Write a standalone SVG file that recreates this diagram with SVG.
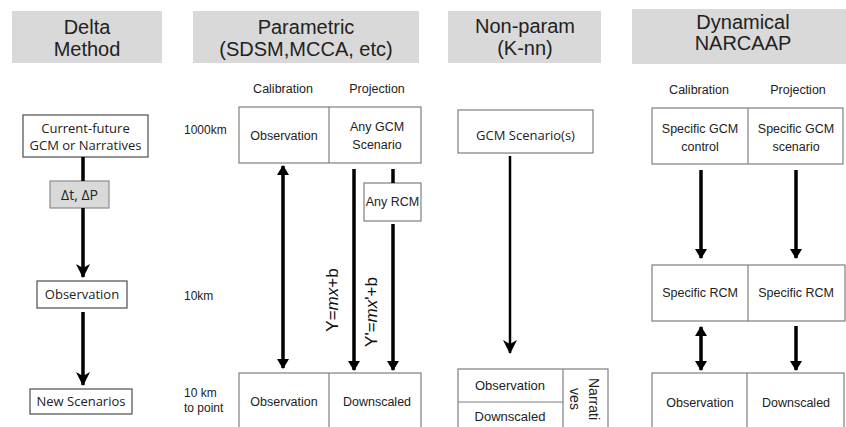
<svg xmlns="http://www.w3.org/2000/svg" width="846" height="427" viewBox="0 0 846 427">
  <defs>
    <style>
      .hdr { fill: #d9d9d9; }
      .htxt { font-family: "Liberation Sans", Arial, sans-serif; font-size: 20px; fill: #222; text-anchor: middle; }
      .box { fill: #fff; stroke: #7f7f7f; stroke-width: 1.2; }
      .dbox { fill: #fff; stroke: #595959; stroke-width: 1.3; }
      .gbox { fill: #d9d9d9; stroke: #8c8c8c; stroke-width: 1.2; }
      .div { stroke: #7f7f7f; stroke-width: 1.2; }
      .t { font-family: "Liberation Sans", Arial, sans-serif; font-size: 12.5px; fill: #222; text-anchor: middle; }
      .c { font-family: "Open Sans", "Noto Sans", sans-serif; font-size: 13px; fill: #222; text-anchor: middle; }
      .lbl { font-family: "Liberation Sans", Arial, sans-serif; font-size: 12px; fill: #222; }
      .eq { font-family: "Liberation Sans", Arial, sans-serif; font-size: 17px; fill: #111; text-anchor: middle; }
      .arr { stroke: #000; stroke-width: 3.5; fill: none; }
      .thin { stroke: #000; stroke-width: 2.5; fill: none; }
    </style>
    <marker id="tri" viewBox="0 0 10 12" refX="9" refY="6" markerWidth="10" markerHeight="12" markerUnits="userSpaceOnUse" orient="auto-start-reverse">
      <path d="M0,0 L10,6 L0,12 Z" fill="#000"/>
    </marker>
    <marker id="vee" viewBox="0 0 14 14" refX="13" refY="7" markerWidth="14" markerHeight="14" markerUnits="userSpaceOnUse" orient="auto">
      <path d="M0,0 L14,7 L0,14 L4,7 Z" fill="#000"/>
    </marker>
  </defs>

  <rect width="846" height="427" fill="#fff"/>

  <!-- column headers -->
  <g id="hdr-delta">
    <rect class="hdr" x="12" y="11" width="150" height="52"/>
    <text class="htxt" x="87" y="34">Delta</text>
    <text class="htxt" x="87" y="56">Method</text>
  </g>
  <g id="hdr-param">
    <rect class="hdr" x="193" y="11" width="226" height="52"/>
    <text class="htxt" x="306" y="34">Parametric</text>
    <text class="htxt" x="306" y="56">(SDSM,MCCA, etc)</text>
  </g>
  <g id="hdr-nonparam">
    <rect class="hdr" x="448" y="11" width="153" height="52"/>
    <text class="htxt" x="525" y="33">Non-param</text>
    <text class="htxt" x="525" y="55">(K-nn)</text>
  </g>
  <g id="hdr-dyn">
    <rect class="hdr" x="632" y="9" width="214" height="55"/>
    <text class="htxt" x="743" y="29">Dynamical</text>
    <text class="htxt" x="743" y="50">NARCAAP</text>
  </g>

  <!-- scale labels -->
  <g id="scales">
    <text class="lbl" x="184" y="134">1000km</text>
    <text class="lbl" x="184" y="300">10km</text>
    <text class="lbl" x="184" y="397">10 km</text>
    <text class="lbl" x="184" y="412">to point</text>
  </g>

  <!-- Delta method nodes -->
  <g id="delta-gcm">
    <rect class="dbox" x="23" y="115" width="125" height="42"/>
    <text class="c" x="85.5" y="133">Current-future</text>
    <text class="c" x="85.5" y="150">GCM or Narratives</text>
  </g>
  <g id="delta-change">
    <rect class="gbox" x="50" y="181" width="59" height="27"/>
    <text class="c" x="79.5" y="199.5" style="font-size:14px">Δt, ΔP</text>
  </g>
  <g id="delta-obs">
    <rect class="dbox" x="37" y="281" width="90" height="27"/>
    <text class="c" x="82" y="299">Observation</text>
  </g>
  <g id="delta-new">
    <rect class="dbox" x="30" y="389" width="102" height="25"/>
    <text class="c" x="81" y="406">New Scenarios</text>
  </g>

  <!-- Parametric nodes -->
  <g id="param-heads">
    <text class="t" x="283" y="93">Calibration</text>
    <text class="t" x="377" y="93">Projection</text>
  </g>
  <g id="param-top">
    <rect class="box" x="239" y="107" width="182" height="56"/>
    <line class="div" x1="329" y1="107" x2="329" y2="163"/>
    <text class="t" x="284" y="140">Observation</text>
    <text class="t" x="377" y="131">Any GCM</text>
    <text class="t" x="377" y="149">Scenario</text>
  </g>
  <g id="param-rcm">
    <rect class="box" x="364" y="183" width="57" height="38"/>
    <text class="t" x="392.5" y="206">Any RCM</text>
  </g>
  <g id="param-bottom">
    <rect class="box" x="239" y="373" width="182" height="60"/>
    <line class="div" x1="329" y1="373" x2="329" y2="433"/>
    <text class="t" x="284" y="406">Observation</text>
    <text class="t" x="377" y="406">Downscaled</text>
  </g>
  <g id="param-eqs">
    <text class="eq" transform="translate(338,300) rotate(-90)">Y=<tspan font-style="italic">mx</tspan>+b</text>
    <text class="eq" transform="translate(377,312) rotate(-90)">Y'=<tspan font-style="italic">mx</tspan>'+b</text>
  </g>

  <!-- Non-parametric nodes -->
  <g id="np-gcm">
    <rect class="box" x="458" y="110" width="135" height="43"/>
    <text class="c" x="525.5" y="140">GCM Scenario(s)</text>
  </g>
  <g id="np-bottom">
    <rect class="box" x="458" y="369" width="150" height="64"/>
    <line class="div" x1="563" y1="369" x2="563" y2="433"/>
    <line class="div" x1="458" y1="402" x2="563" y2="402"/>
    <text class="t" x="510" y="390" style="font-size:13px">Observation</text>
    <text class="t" x="510" y="421" style="font-size:13px">Downscaled</text>
    <text class="t" transform="translate(589,399) rotate(90)" style="font-size:14px">Narrati</text>
    <text class="t" transform="translate(570,399) rotate(90)" style="font-size:14px">ves</text>
  </g>

  <!-- Dynamical nodes -->
  <g id="dyn-heads">
    <text class="t" x="699" y="94">Calibration</text>
    <text class="t" x="798" y="94">Projection</text>
  </g>
  <g id="dyn-gcm">
    <rect class="box" x="652" y="108" width="191" height="56"/>
    <line class="div" x1="748" y1="108" x2="748" y2="164"/>
    <text class="t" x="700" y="133">Specific GCM</text>
    <text class="t" x="700" y="151">control</text>
    <text class="t" x="796" y="133">Specific GCM</text>
    <text class="t" x="796" y="151">scenario</text>
  </g>
  <g id="dyn-rcm">
    <rect class="box" x="652" y="265" width="193" height="56"/>
    <line class="div" x1="748" y1="265" x2="748" y2="321"/>
    <text class="t" x="700" y="297">Specific RCM</text>
    <text class="t" x="796" y="297">Specific RCM</text>
  </g>
  <g id="dyn-bottom">
    <rect class="box" x="652" y="373" width="192" height="60"/>
    <line class="div" x1="747" y1="373" x2="747" y2="433"/>
    <text class="t" x="700" y="407">Observation</text>
    <text class="t" x="796" y="407">Downscaled</text>
  </g>

  <!-- connectors -->
  <g id="connectors">
    <!-- delta method -->
    <line class="arr" x1="83" y1="157" x2="83" y2="181"/>
    <line class="arr" x1="83" y1="208" x2="83" y2="277" marker-end="url(#vee)"/>
    <line class="arr" x1="83" y1="312" x2="83" y2="385" marker-end="url(#vee)"/>
    <!-- parametric -->
    <line class="arr" x1="283" y1="166" x2="283" y2="368" marker-start="url(#tri)" marker-end="url(#tri)"/>
    <line class="arr" x1="354" y1="169" x2="354" y2="370" marker-end="url(#tri)"/>
    <line class="arr" x1="393" y1="169" x2="393" y2="183"/>
    <line class="arr" x1="393" y1="224" x2="393" y2="370" marker-end="url(#tri)"/>
    <!-- non-parametric -->
    <line class="thin" x1="510" y1="156" x2="510" y2="353" marker-end="url(#vee)"/>
    <!-- dynamical -->
    <line class="arr" x1="701" y1="170" x2="701" y2="258" marker-end="url(#tri)"/>
    <line class="arr" x1="796" y1="170" x2="796" y2="258" marker-end="url(#tri)"/>
    <line class="arr" x1="701" y1="327" x2="701" y2="370" marker-start="url(#tri)" marker-end="url(#tri)"/>
    <line class="arr" x1="796" y1="326" x2="796" y2="370" marker-end="url(#tri)"/>
  </g>
</svg>
